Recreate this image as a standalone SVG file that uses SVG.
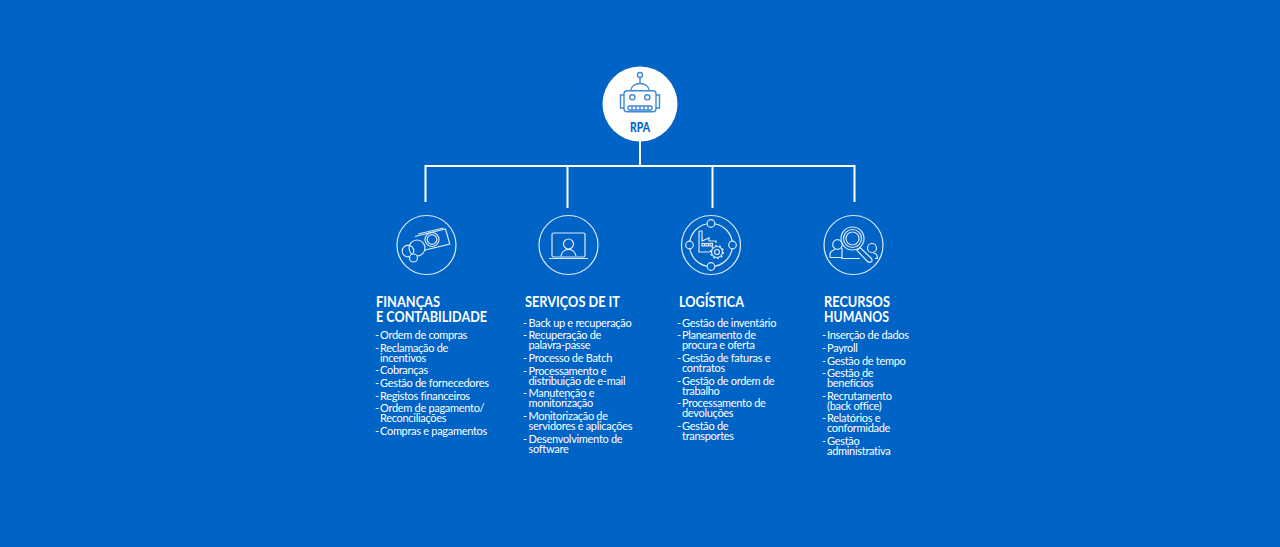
<svg xmlns="http://www.w3.org/2000/svg" width="1280" height="547" viewBox="0 0 1280 547">
<style>
.t{font-family:"Lato","Noto Sans",sans-serif;font-size:11px;letter-spacing:-.3px;fill:#fff}
.h{font-family:"Lato","Noto Sans",sans-serif;font-size:15.5px;font-weight:700;fill:#fff}
.c{fill:none;stroke:#fff;stroke-width:2}
.i{fill:none;stroke:#dce9f8;stroke-width:1.2}
.r{fill:none;stroke:#3f88d8;stroke-width:1.4}
.d{fill:#0063c6;stroke:#dce9f8;stroke-width:1.2}
</style>
<rect width="1280" height="547" fill="#0063c6"/>
<g id="connectors">
<path class="c" d="M640 140V166M425.500 202V166H854.500V202M567.500 166V208M712.500 166V208"/>
</g>
<g id="rpa">
<circle cx="640" cy="104" r="37.500" fill="#fff"/>
<circle class="r" cx="640" cy="75" r="2.500"/>
<path class="r" d="M640 77.500V83.500M630.700 90.700C631.500 81 648.500 81 649.300 90.700"/>
<rect class="r" x="624" y="90.700" width="32" height="21" rx="3"/>
<path class="r" d="M624 95H620.500V108H624M656 95H659.500V108H656"/>
<circle class="r" cx="632.300" cy="97.300" r="2.600"/><circle class="r" cx="647.300" cy="97.300" r="2.600"/>
<rect class="r" x="628" y="106" width="24" height="4" rx="1.500"/>
<path class="r" stroke-width="0.800" d="M632 106V110M636 106V110M640 106V110M644 106V110M648 106V110"/>
<text x="630" y="131.500" textLength="20" lengthAdjust="spacingAndGlyphs" style="font-family:Lato,sans-serif;font-size:13px;font-weight:900;fill:#0063c6">RPA</text>
</g>
<g id="financas">
<circle class="i" cx="426.500" cy="245" r="29.500"/>
<path class="i" d="M415 236.500L445.500 229L449.800 244L419 251.500"/>
<path class="i" d="M418 234L443.500 228"/>
<circle class="i" cx="432" cy="239.500" r="7"/><circle class="i" cx="432" cy="239.500" r="4.800"/>
<circle class="d" cx="417" cy="248" r="8"/><circle class="i" cx="408" cy="251" r="5.800"/><circle class="d" cx="413.500" cy="258" r="4"/>
<text class="h" x="376" y="306.500" textLength="64" lengthAdjust="spacingAndGlyphs">FINANÇAS</text>
<text class="h" x="376" y="321.500" textLength="111" lengthAdjust="spacingAndGlyphs">E CONTABILIDADE</text>
<text class="t"><tspan x="375" y="339">- </tspan><tspan x="380">Ordem de compras</tspan><tspan x="375" y="351.500">- </tspan><tspan x="380">Reclamação de</tspan><tspan x="380" y="361.500">incentivos</tspan><tspan x="375" y="374">- </tspan><tspan x="380">Cobranças</tspan><tspan x="375" y="387">- </tspan><tspan x="380">Gestão de fornecedores</tspan><tspan x="375" y="399.500">- </tspan><tspan x="380">Registos financeiros</tspan><tspan x="375" y="412">- </tspan><tspan x="380">Ordem de pagamento/</tspan><tspan x="380" y="422">Reconciliações</tspan><tspan x="375" y="435">- </tspan><tspan x="380">Compras e pagamentos</tspan></text>
</g>
<g id="servicos">
<circle class="i" cx="568.500" cy="245" r="29.500"/>
<rect class="i" x="552" y="233" width="33" height="24" rx="1.500"/>
<path class="i" d="M549 258.500H588"/>
<circle class="i" cx="568.500" cy="244" r="5"/>
<path class="i" d="M561 256.500C562 247 575 247 576 256.500"/>
<text class="h" x="525" y="306.500" textLength="95" lengthAdjust="spacingAndGlyphs">SERVIÇOS DE IT</text>
<text class="t"><tspan x="523" y="327">- </tspan><tspan x="528.500">Back up e recuperação</tspan><tspan x="523" y="339">- </tspan><tspan x="528.500">Recuperação de</tspan><tspan x="528.500" y="349">palavra-passe</tspan><tspan x="523" y="362">- </tspan><tspan x="528.500">Processo de Batch</tspan><tspan x="523" y="374.500">- </tspan><tspan x="528.500">Processamento e</tspan><tspan x="528.500" y="384.500">distribuição de e-mail</tspan><tspan x="523" y="397">- </tspan><tspan x="528.500">Manutenção e</tspan><tspan x="528.500" y="407">monitorização</tspan><tspan x="523" y="420">- </tspan><tspan x="528.500">Monitorização de</tspan><tspan x="528.500" y="430">servidores e aplicações</tspan><tspan x="523" y="442.500">- </tspan><tspan x="528.500">Desenvolvimento de</tspan><tspan x="528.500" y="452.500">software</tspan></text>
</g>
<g id="logistica">
<circle class="i" cx="711" cy="245" r="29.500"/>
<circle class="i" cx="711" cy="245" r="21.500"/>
<circle class="d" cx="711" cy="223.500" r="3.800"/>
<circle class="d" cx="711" cy="266.500" r="3.800"/>
<circle class="d" cx="689.500" cy="245" r="3.800"/>
<circle class="d" cx="732.500" cy="245" r="3.800"/>
<path class="i" d="M699 231H702V241L709 238V241H716V243M699 231V252H710"/>
<rect class="i" x="702" y="243.500" width="2.500" height="2.500"/><rect class="i" x="706" y="243.500" width="2.500" height="2.500"/><rect class="i" x="710" y="243.500" width="2.500" height="2.500"/>
<circle class="d" cx="717" cy="252" r="5.500"/><circle class="i" cx="717" cy="252" r="6.500" stroke-dasharray="2 2"/><circle class="i" cx="717" cy="252" r="2.500"/>
<text class="h" x="679" y="306.500" textLength="65" lengthAdjust="spacingAndGlyphs">LOGÍSTICA</text>
<text class="t"><tspan x="677" y="327">- </tspan><tspan x="682">Gestão de inventário</tspan><tspan x="677" y="339">- </tspan><tspan x="682">Planeamento de</tspan><tspan x="682" y="349">procura e oferta</tspan><tspan x="677" y="362">- </tspan><tspan x="682">Gestão de faturas e</tspan><tspan x="682" y="372">contratos</tspan><tspan x="677" y="384.500">- </tspan><tspan x="682">Gestão de ordem de</tspan><tspan x="682" y="394.500">trabalho</tspan><tspan x="677" y="407">- </tspan><tspan x="682">Processamento de</tspan><tspan x="682" y="417">devoluções</tspan><tspan x="677" y="430">- </tspan><tspan x="682">Gestão de</tspan><tspan x="682" y="440">transportes</tspan></text>
</g>
<g id="recursos">
<circle class="i" cx="853.500" cy="245" r="29.500"/>
<path class="i" d="M842 248V258.500H860"/>
<circle class="i" cx="837.500" cy="244.500" r="4.800"/>
<path class="i" d="M830 257.500V254C830 251 833 250.500 835 249.500M830 257.500H842"/>
<circle class="i" cx="872" cy="248" r="4.500"/>
<path class="i" d="M873 253C876 253 877.500 254.500 877.500 258.500H875"/>
<circle class="i" cx="852.500" cy="238.500" r="6.500"/><circle class="i" cx="852.500" cy="238.500" r="9"/><circle class="i" cx="852.500" cy="238.500" r="11.500"/>
<path class="d" d="M860 247.500L871 258C874 261 870 264 867 261L857 250.500Z"/>
<text class="h" x="824" y="306.500" textLength="66" lengthAdjust="spacingAndGlyphs">RECURSOS</text>
<text class="h" x="824" y="321.500" textLength="65" lengthAdjust="spacingAndGlyphs">HUMANOS</text>
<text class="t"><tspan x="822" y="339">- </tspan><tspan x="827">Inserção de dados</tspan><tspan x="822" y="351.500">- </tspan><tspan x="827">Payroll</tspan><tspan x="822" y="364.500">- </tspan><tspan x="827">Gestão de tempo</tspan><tspan x="822" y="377">- </tspan><tspan x="827">Gestão de</tspan><tspan x="827" y="387">benefícios</tspan><tspan x="822" y="399.500">- </tspan><tspan x="827">Recrutamento</tspan><tspan x="827" y="409.500">(back office)</tspan><tspan x="822" y="422">- </tspan><tspan x="827">Relatórios e</tspan><tspan x="827" y="432">conformidade</tspan><tspan x="822" y="445">- </tspan><tspan x="827">Gestão</tspan><tspan x="827" y="455">administrativa</tspan></text>
</g>
</svg>
